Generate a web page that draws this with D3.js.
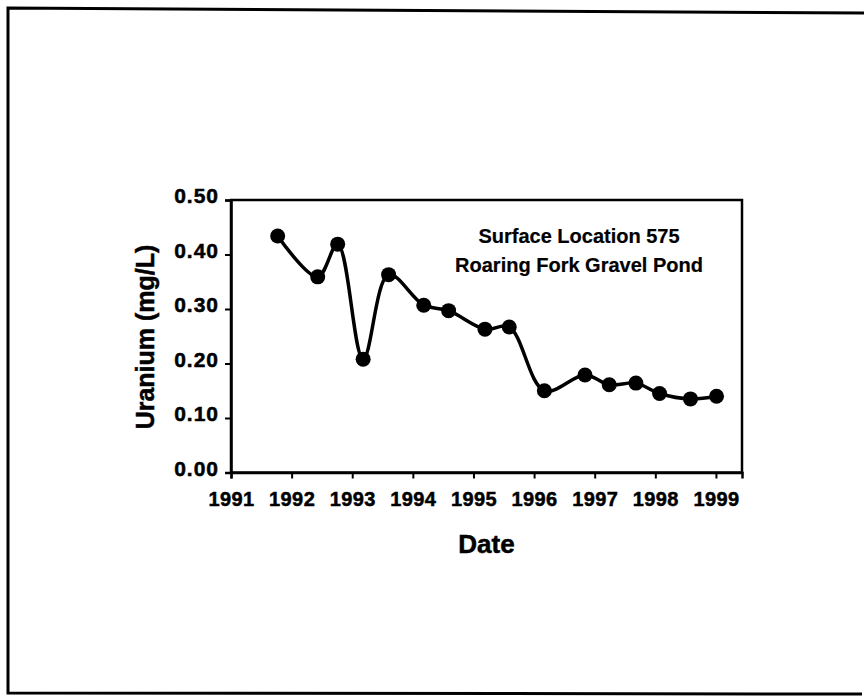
<!DOCTYPE html>
<html>
<head>
<meta charset="utf-8">
<script src="https://cdn.jsdelivr.net/npm/d3@7"></script>
<style>
  body { margin: 0; background: #fff; }
  svg { display: block; font-family: "Liberation Sans", Arial, sans-serif; }
  svg text { stroke: #000; stroke-width: 0.5px; }
</style>
</head>
<body>
<script>
// sample dates (decimal years) and uranium concentration
var years = [1991.77, 1992.43, 1992.76, 1993.18, 1993.60, 1994.18, 1994.59, 1995.19,
             1995.59, 1996.17, 1996.84, 1997.24, 1997.68, 1998.07, 1998.58, 1999.01];
var uranium = [0.434, 0.359, 0.419, 0.208, 0.363, 0.307, 0.297, 0.263,
               0.267, 0.150, 0.179, 0.161, 0.164, 0.145, 0.135, 0.140];
var yearTicks = [1991, 1992, 1993, 1994, 1995, 1996, 1997, 1998, 1999];
var uTicks = [0, 0.1, 0.2, 0.3, 0.4, 0.5];
var noteLines = ["Surface Location 575", "Roaring Fork Gravel Pond"];

var width = 864,
    height = 698;

var svg = d3.select("body").append("svg")
    .attr("width", width)
    .attr("height", height);

// outer frame of the page (left, top, bottom only)
svg.append("path")
    .attr("d", "M864,13 L8,8 L8,693 L862,694")
    .attr("fill", "none")
    .attr("stroke", "#000")
    .attr("stroke-width", 3);

var pLeft = 231, pRight = 742, pTop = 200, pBottom = 472.5;

var x = d3.scaleLinear()
    .domain([1991, 1999.43])
    .range([pLeft, pRight]);

var y = d3.scaleLinear()
    .domain([0, 0.5])
    .range([pBottom, pTop]);

// plot box
svg.append("rect")
    .attr("x", pLeft)
    .attr("y", pTop)
    .attr("width", pRight - pLeft)
    .attr("height", pBottom - pTop)
    .attr("fill", "none")
    .attr("stroke", "#000")
    .attr("stroke-width", 2.5);

// y axis
var gy = svg.append("g")
    .attr("transform", "translate(" + pLeft + ",0)")
    .call(d3.axisLeft(y)
        .tickValues(uTicks)
        .tickSize(6)
        .tickPadding(6)
        .tickFormat(d3.format(".2f")));
gy.select(".domain").attr("stroke-width", 2.5);
gy.selectAll(".tick line").attr("stroke-width", 2);
gy.selectAll("text")
    .attr("dy", "0.12em")
    .attr("font-size", 21)
    .attr("font-weight", "bold")
    .attr("letter-spacing", 1)
    .attr("fill", "#000");

// x axis
var gx = svg.append("g")
    .attr("transform", "translate(0," + pBottom + ")")
    .call(d3.axisBottom(x)
        .tickValues(yearTicks)
        .tickSize(6)
        .tickPadding(13)
        .tickFormat(function(d) { return d; }));
gx.select(".domain").attr("stroke-width", 2.5);
gx.selectAll(".tick line").attr("stroke-width", 2);
gx.selectAll("text")
    .attr("font-size", 20)
    .attr("font-weight", "bold")
    .attr("letter-spacing", 0.4)
    .attr("fill", "#000");

// axis titles
svg.append("text")
    .attr("transform", "translate(154,337) rotate(-90)")
    .attr("text-anchor", "middle")
    .attr("font-size", 25)
    .attr("font-weight", "bold")
    .text("Uranium (mg/L)");

svg.append("text")
    .attr("x", (pLeft + pRight) / 2)
    .attr("y", 553)
    .attr("text-anchor", "middle")
    .attr("font-size", 26)
    .attr("font-weight", "bold")
    .text("Date");

// annotation
svg.selectAll(".note")
  .data(noteLines)
  .enter().append("text")
    .attr("class", "note")
    .attr("x", 579)
    .attr("y", function(d, i) { return 243 + i * 29; })
    .attr("text-anchor", "middle")
    .attr("font-size", 20)
    .attr("font-weight", "bold")
    .style("stroke-width", "0.2px")
    .text(function(d) { return d; });

// smoothed line and markers
var pts = years.map(function(d, i) { return [d, uranium[i]]; });

var line = d3.line()
    .x(function(d) { return x(d[0]); })
    .y(function(d) { return y(d[1]); })
    .curve(d3.curveCatmullRom.alpha(0.5));

svg.append("path")
    .datum(pts)
    .attr("d", line)
    .attr("fill", "none")
    .attr("stroke", "#000")
    .attr("stroke-width", 3.5);

svg.selectAll(".dot")
  .data(pts)
  .enter().append("circle")
    .attr("class", "dot")
    .attr("cx", function(d) { return x(d[0]); })
    .attr("cy", function(d) { return y(d[1]); })
    .attr("r", 7.5)
    .attr("fill", "#000");
</script>
</body>
</html>
